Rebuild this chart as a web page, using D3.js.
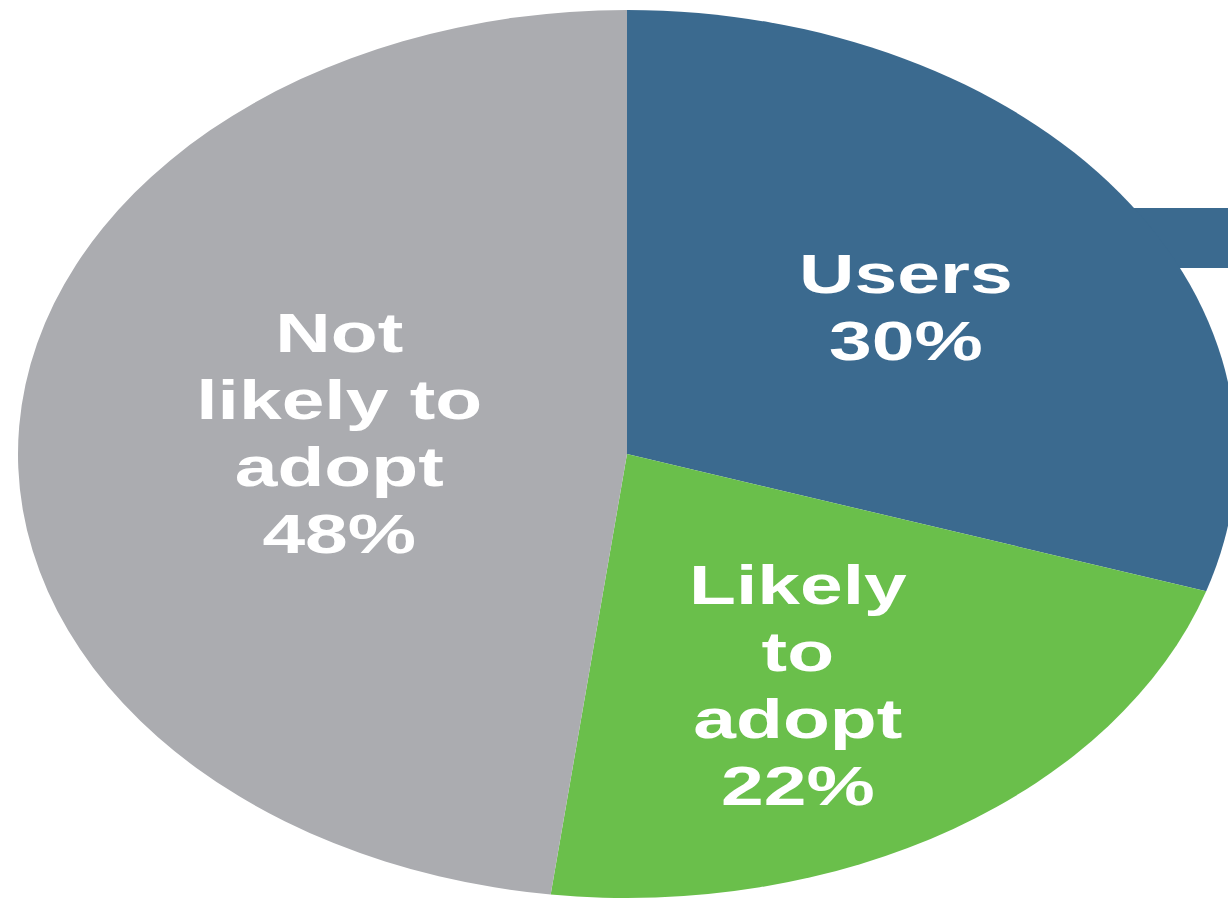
<html>
<head>
<script src="https://d3js.org/d3.v7.min.js"></script>
<style>
  body { margin: 0; background: #fff; }
  text { font-family: "Liberation Sans", Arial, sans-serif; font-weight: bold; fill: #fff; }
</style>
</head>
<body>
<svg id="chart" width="1228" height="904"></svg>
<script>
  // slice data, clockwise from 12 o'clock
  var categories = ["Users", "Likely to adopt", "Not likely to adopt"];
  var values = [30, 22, 48];
  var labelLines = [["Users", "30%"], ["Likely", "to", "adopt", "22%"], ["Not", "likely to", "adopt", "48%"]];
  var colors = ["#3b6a8f", "#6abf4b", "#abacb0"];

  var width = 1228, height = 904;
  var cx = 627, cy = 454;
  var r = 444;
  var sx = 609 / r;   // the picture is stretched sideways

  var svg = d3.select("#chart");

  var pie = d3.pie().sort(null).value(function(d) { return d; });
  var arcs = pie(values);
  var arc = d3.arc().innerRadius(0).outerRadius(r);

  // connector bar leaving the Users slice to the right
  svg.append("rect")
    .attr("x", 1080)
    .attr("y", 208)
    .attr("width", width - 1080)
    .attr("height", 60)
    .attr("fill", colors[0]);

  var g = svg.append("g")
    .attr("transform", "translate(" + cx + "," + cy + ") scale(" + sx + ",1)");

  g.selectAll("path")
    .data(arcs)
    .enter()
    .append("path")
      .attr("d", arc)
      .attr("fill", function(d, i) { return colors[i]; });

  // label placement: radius factor and small angle nudge per slice
  var labelR = [0.566, 0.59, 0.475];
  var labelNudge = [0, 0.07, 0.04];
  var fontSize = 56, lineH = 67, capH = 40;

  arcs.forEach(function(d, i) {
    var a = (d.startAngle + d.endAngle) / 2 + labelNudge[i];
    var rr = r * labelR[i];
    var x = cx + Math.sin(a) * rr * sx;
    var y = cy - Math.cos(a) * rr;
    var lines = labelLines[i];
    var blockH = capH + lineH * (lines.length - 1);
    var firstBase = y - blockH / 2 + capH;

    var t = svg.append("text")
      .attr("transform", "translate(" + x + "," + firstBase + ") scale(" + sx + ",1)")
      .attr("text-anchor", "middle")
      .style("font-size", fontSize + "px");
    lines.forEach(function(s, j) {
      t.append("tspan")
        .attr("x", 0)
        .attr("y", j * lineH)
        .text(s);
    });
  });
</script>
</body>
</html>
